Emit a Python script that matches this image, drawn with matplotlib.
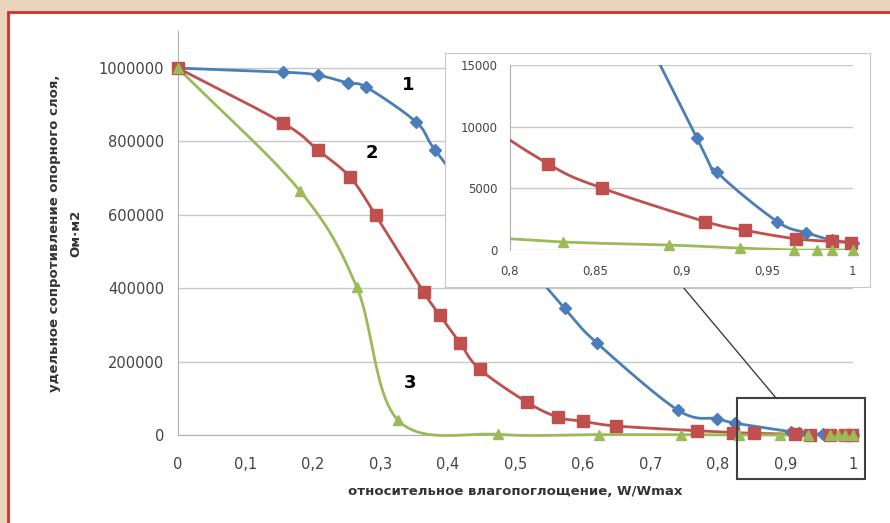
import numpy as np
import matplotlib
import matplotlib.pyplot as plt
from matplotlib.patches import Rectangle

# series (x = W/Wmax, y = resistance)
x1 = [0, 0.156, 0.207, 0.252, 0.279, 0.353, 0.381, 0.46, 0.573, 0.621, 0.741, 0.799, 0.825,
      0.909, 0.921, 0.956, 0.973, 0.988, 1.0]
y1 = [1000000, 989000, 981000, 959000, 948000, 853000, 777000, 590000, 346000, 251000, 68000,
      45000, 33000, 9100, 6300, 2300, 1400, 800, 600]

x2 = [0, 0.156, 0.207, 0.255, 0.293, 0.364, 0.388, 0.418, 0.447, 0.517, 0.563, 0.600, 0.649,
      0.769, 0.822, 0.854, 0.914, 0.937, 0.967, 0.988, 0.999]
y2 = [1000000, 850000, 777000, 703000, 599000, 390000, 327000, 251000, 180000, 90000, 49000,
      38000, 25000, 12000, 7000, 5000, 2300, 1600, 900, 700, 600]

x3 = [0, 0.181, 0.265, 0.326, 0.475, 0.624, 0.745, 0.831, 0.893, 0.934, 0.966, 0.979, 0.988, 1.0]
y3 = [1000000, 665000, 403000, 41000, 2000, 1500, 1300, 650, 400, 160, 0, 0, 0, 0]

main_xticks = np.arange(0, 1.01, 0.1)
main_yticks = np.arange(0, 1000001, 200000)
inset_xticks = [0.8, 0.85, 0.9, 0.95, 1.0]
inset_yticks = [0, 5000, 10000, 15000]

colors = ['#4a7ebb', '#c0504d', '#9bbb59']
markers = [('D', 6.5), ('s', 8.5), ('^', 7.5)]


def smooth(x, y, n=25):
    # Catmull-Rom curve through the points, like Excel's smoothed line
    x = np.asarray(x, float)
    y = np.asarray(y, float)
    P = np.column_stack([x, y])
    P = np.vstack([2 * P[0] - P[1], P, 2 * P[-1] - P[-2]])
    t = np.linspace(0, 1, n)[:, None]
    h00 = 2 * t**3 - 3 * t**2 + 1
    h10 = t**3 - 2 * t**2 + t
    h01 = -2 * t**3 + 3 * t**2
    h11 = t**3 - t**2
    out = []
    for i in range(1, len(P) - 2):
        m1 = (P[i + 1] - P[i - 1]) / 2
        m2 = (P[i + 2] - P[i]) / 2
        seg = h00 * P[i] + h10 * m1 + h01 * P[i + 1] + h11 * m2
        out.append(seg if i == 1 else seg[1:])
    out = np.vstack(out)
    return out[:, 0], out[:, 1]


plt.rcParams['font.family'] = ['DejaVu Sans']
fig = plt.figure(figsize=(8.9, 5.23), dpi=100)
fig.patch.set_facecolor('#e8d5bc')
fig.add_artist(Rectangle((8 / 890, -0.02), 1.05, 1 - 12 / 523 + 0.02, transform=fig.transFigure,
                         facecolor='white', edgecolor='#dc2a2a', lw=2, zorder=0))

ax = fig.add_axes([0.2, 0.168, 0.758, 0.772])
ax.set_facecolor('none')
series = [(x1, y1), (x2, y2), (x3, y3)]
for (xs, ys), c, (m, ms) in zip(series, colors, markers):
    sx, sy = smooth(xs, ys)
    ax.plot(sx, sy, '-', color=c, lw=2, clip_on=False, zorder=3)
    ax.plot(xs, ys, m, color=c, ms=ms, mec=c, clip_on=False, zorder=4)

ax.set_xlim(0, 1)
ax.set_ylim(0, 1100000)
ax.set_xticks(main_xticks)
ax.set_xticklabels(['0' if v == 0 else ('1' if abs(v - 1) < 1e-9 else f'{v:.1f}'.replace('.', ','))
                    for v in main_xticks], fontsize=10.5, color='#444444')
ax.set_yticks(main_yticks)
ax.set_yticklabels([str(int(v)) for v in main_yticks], fontsize=10.5, color='#444444')
ax.tick_params(axis='x', length=0, pad=16)
ax.tick_params(axis='y', length=0, pad=10)
ax.yaxis.grid(True, color='#c8c8c8', lw=1)
ax.set_axisbelow(True)
for s in ['top', 'right']:
    ax.spines[s].set_visible(False)
for s in ['left', 'bottom']:
    ax.spines[s].set_color('#b0b0b0')

ax.set_xlabel('относительное влагопоглощение, W/Wmax', fontsize=9.5, fontweight='bold',
              color='#333333', labelpad=9)
ax.set_ylabel('удельное сопротивление опорного слоя,\nОм·м2', fontsize=9.5, fontweight='bold',
              color='#333333', labelpad=12, linespacing=1.8)

ax.text(0.341, 954000, '1', fontsize=13, fontweight='bold', ha='center', va='center')
ax.text(0.287, 768000, '2', fontsize=13, fontweight='bold', ha='center', va='center')
ax.text(0.344, 142000, '3', fontsize=13, fontweight='bold', ha='center', va='center')

# zoom box and connector line
ax.add_patch(Rectangle((0.828, -120000), 0.19, 220000, fill=False, edgecolor='#404040',
                       lw=1.5, clip_on=False, zorder=5))
ax.plot([0.741, 0.887], [420000, 100000], color='#404040', lw=1, zorder=2)

# inset frame
frame = fig.add_axes([0.5, 0.451, 0.4775, 0.447])
frame.set_xticks([])
frame.set_yticks([])
frame.set_facecolor('white')
for s in frame.spines.values():
    s.set_color('#c8c8c8')

ins = fig.add_axes([0.573, 0.522, 0.385, 0.354])
ins.set_facecolor('white')
for (xs, ys), c, (m, ms) in zip(series, colors, markers):
    sx, sy = smooth(xs, ys)
    ins.plot(sx, sy, '-', color=c, lw=2, zorder=3)
    xa = np.asarray(xs)
    keep = xa >= 0.8
    ins.plot(xa[keep], np.asarray(ys)[keep], m, color=c, ms=ms, mec=c, clip_on=False, zorder=4)
ins.set_xlim(0.8, 1.0)
ins.set_ylim(0, 15000)
ins.set_xticks(inset_xticks)
ins.set_xticklabels(['0,8', '0,85', '0,9', '0,95', '1'], fontsize=8.5, color='#444444')
ins.set_yticks(inset_yticks)
ins.set_yticklabels([str(v) for v in inset_yticks], fontsize=8.5, color='#444444')
ins.tick_params(axis='x', length=0, pad=11)
ins.tick_params(axis='y', length=0, pad=9)
ins.yaxis.grid(True, color='#c8c8c8', lw=1)
ins.set_axisbelow(True)
for s in ['top', 'right', 'bottom']:
    ins.spines[s].set_visible(False)
ins.spines['left'].set_color('#b0b0b0')

fig.savefig('out.png', dpi=100, facecolor=fig.get_facecolor())
